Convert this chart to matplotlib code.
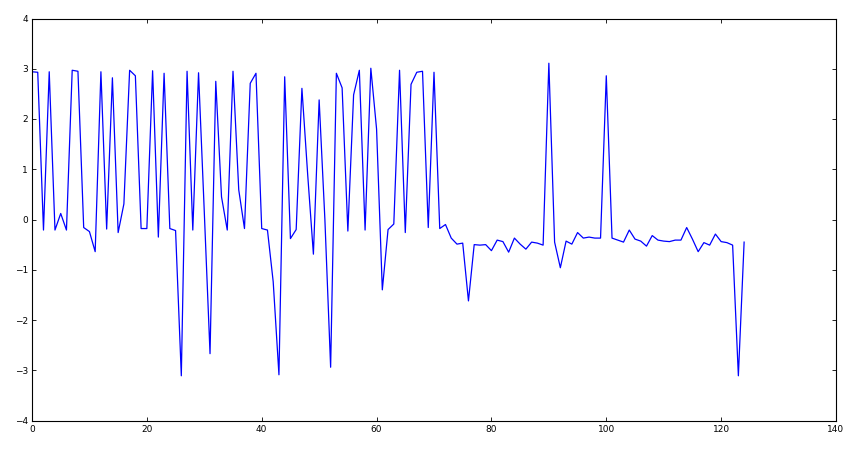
import numpy as np
import matplotlib
matplotlib.use('Agg')
import matplotlib.pyplot as plt

# values, index 0..124
y_vals = [
    2.94, 2.93, -0.21, 2.94, -0.21, 0.12, -0.21, 2.97, 2.95, -0.16,
    -0.24, -0.64, 2.94, -0.19, 2.82, -0.26, 0.31, 2.97, 2.86, -0.18,
    -0.18, 2.96, -0.35, 2.91, -0.18, -0.22, -3.11, 2.95, -0.21, 2.92,
    0.15, -2.67, 2.75, 0.45, -0.21, 2.95, 0.59, -0.18, 2.71, 2.91,
    -0.18, -0.21, -1.24, -3.09, 2.84, -0.38, -0.20, 2.61, 0.90, -0.69,
    2.38, 0.00, -2.94, 2.91, 2.62, -0.23, 2.48, 2.97, -0.21, 3.01,
    1.80, -1.40, -0.20, -0.09, 2.97, -0.26, 2.69, 2.93, 2.95, -0.16,
    2.93, -0.18, -0.10, -0.37, -0.49, -0.47, -1.62, -0.50, -0.51, -0.50,
    -0.62, -0.41, -0.44, -0.65, -0.37, -0.49, -0.59, -0.45, -0.47, -0.51,
    3.11, -0.45, -0.96, -0.43, -0.49, -0.26, -0.37, -0.35, -0.37, -0.37,
    2.86, -0.37, -0.41, -0.45, -0.21, -0.39, -0.43, -0.53, -0.32, -0.41,
    -0.43, -0.44, -0.41, -0.41, -0.16, -0.39, -0.64, -0.46, -0.51, -0.29,
    -0.44, -0.46, -0.51, -3.11, -0.45,
]
x_vals = np.arange(len(y_vals))

x_ticks = [0, 20, 40, 60, 80, 100, 120, 140]
y_ticks = [-4, -3, -2, -1, 0, 1, 2, 3, 4]

fig = plt.figure(figsize=(8.64, 4.5), dpi=100)
ax = fig.add_axes([32 / 864, 29.5 / 450, 804 / 864, 402 / 450])

ax.plot(x_vals, y_vals, color='b', lw=0.9)

ax.set_xlim(0, 140)
ax.set_ylim(-4, 4)
ax.set_xticks(x_ticks)
ax.set_yticks(y_ticks)
ax.tick_params(direction='in', top=True, right=True, length=3, width=0.6,
               labelsize=6.5, pad=3)
for s in ax.spines.values():
    s.set_linewidth(0.8)

fig.savefig('out.png', dpi=100, facecolor='white')
